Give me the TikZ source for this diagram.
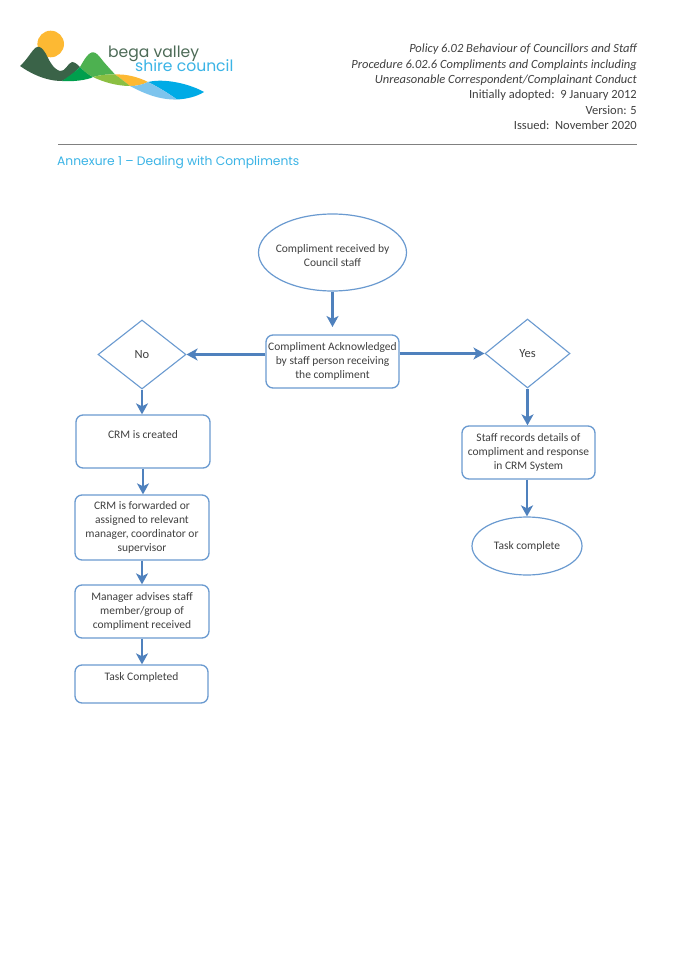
\documentclass[tikz,border=0pt]{standalone}
\usepackage{fontspec}
\setmainfont{Carlito}
\newfontfamily\logofont{Poppins}
\usetikzlibrary{shapes.geometric,arrows.meta}
\definecolor{flowline}{HTML}{4F81BD}
\definecolor{outlinec}{HTML}{6A9AD0}
\definecolor{inkc}{HTML}{404040}
\definecolor{annexc}{HTML}{3BB4E6}
\definecolor{sunc}{HTML}{FDB933}
\definecolor{darkgreenc}{HTML}{3A6348}
\definecolor{midgreenc}{HTML}{009F4D}
\definecolor{greenc}{HTML}{4DB150}
\definecolor{limec}{HTML}{8BBF42}
\definecolor{bluec}{HTML}{00ABE6}
\definecolor{paleblue}{HTML}{7DC4ED}
\definecolor{logotext}{HTML}{4D6B57}
\tikzset{
  x=1pt,y=1pt,
  flowtext/.style={text=inkc,font=\fontsize{11.5}{14}\selectfont,align=center,inner sep=0pt},
  boxnode/.style={flowtext,draw=outlinec,line width=1.3pt,rounded corners=7pt,fill=white},
  ovalnode/.style={flowtext,draw=outlinec,line width=1.2pt,ellipse,fill=white,inner xsep=-12pt},
  decnode/.style={flowtext,font=\fontsize{12.5}{14}\selectfont,draw=outlinec,line width=1.1pt,diamond,fill=white},
  conn/.style={draw=flowline,line width=2.5pt,-{Stealth[length=11pt,width=12pt,inset=3pt]}},
  headtext/.style={text=inkc,font=\fontsize{12.5}{14}\selectfont,anchor=base east,inner sep=0pt},
  hrule/.style={draw=black!50,line width=1pt}
}
\begin{document}
\begin{tikzpicture}
\useasboundingbox (0,0) rectangle (675,-957);
\fill[white] (0,0) rectangle (675,-957);
% logo
\fill[sunc] (50.7,-44) circle (13.3);
\fill[sunc] (115,-74.5) .. controls (127,-74) and (138,-77) .. (148,-82) .. controls (142,-85) and (136,-86) .. (130,-86) .. controls (125,-82) and (120,-78) .. (115,-74.5) -- cycle;
\fill[darkgreenc] (20,-66) .. controls (27,-60) and (32,-50) .. (36,-47.5) .. controls (40,-45) and (43,-49) .. (46,-54) .. controls (49,-60) and (53,-69) .. (60,-71) .. controls (65,-72) and (68,-63) .. (72,-62) .. controls (75,-62) and (78,-65) .. (80,-67) .. controls (75,-72) and (70,-77) .. (62,-81) .. controls (45,-81) and (30,-73) .. (20,-66) -- cycle;
\fill[midgreenc] (62,-81) .. controls (68,-77) and (75,-72) .. (80,-67) .. controls (84,-71) and (89,-75) .. (93,-77) .. controls (88,-80) and (72,-82) .. (62,-81) -- cycle;
\fill[greenc] (80,-67) .. controls (84,-60) and (88,-53) .. (92,-52.3) .. controls (96,-51.5) and (99,-56) .. (103,-61) .. controls (108,-67) and (112,-71) .. (115,-74.5) .. controls (108,-74) and (100,-75) .. (93,-77) .. controls (88,-75) and (84,-71) .. (80,-67) -- cycle;
\fill[limec] (93,-77) .. controls (100,-75) and (108,-74) .. (115,-74.5) .. controls (120,-78) and (125,-82) .. (130,-86) .. controls (117,-86) and (103,-82) .. (93,-77) -- cycle;
\fill[bluec] (148,-82) .. controls (165,-78) and (190,-84) .. (204,-92) .. controls (196,-97) and (186,-99) .. (177,-99.5) .. controls (168,-93) and (158,-87) .. (148,-82) -- cycle;
\fill[paleblue] (130,-86) .. controls (136,-86) and (142,-85) .. (148,-82) .. controls (158,-87) and (168,-93) .. (177,-99.5) .. controls (160,-100) and (145,-94) .. (130,-86) -- cycle;
\node[anchor=base west,inner sep=0pt,text=logotext,font=\logofont\fontsize{15.6}{15}\selectfont] (logotop) at (108,-57.5) {bega valley};
\node[anchor=base west,inner sep=0pt,text=annexc,font=\logofont\fontsize{15.6}{15}\selectfont] (logobot) at (135,-71.5) {shire council};
% header
\node[headtext] (h1) at (637,-53) {\itshape Policy 6.02 Behaviour of Councillors and Staff};
\node[headtext] (h2) at (637,-68.5) {\itshape Procedure 6.02.6 Compliments and Complaints including};
\node[headtext] (h3) at (637,-84) {\itshape Unreasonable Correspondent/Complainant Conduct};
\node[headtext] (h4) at (637,-99) {Initially adopted:\ \ 9 January 2012};
\node[headtext] (h5) at (637,-114.5) {Version: 5};
\node[headtext] (h6) at (637,-130) {Issued:\ \ November 2020};
\coordinate (ruleL) at (58,-145);
\coordinate (ruleR) at (637,-145);
\draw[hrule] (ruleL) -- (ruleR);
\node[anchor=base west,inner sep=0pt,text=annexc,font=\logofont\fontsize{12.3}{14}\selectfont] (annex) at (57,-166) {Annexure 1 – Dealing with Compliments};
% flow nodes
\node[ovalnode,minimum width=148pt,minimum height=77pt] (start) at (332.5,-252.5) {\rule{0pt}{14pt}Compliment received by\\Council staff};
\node[boxnode,minimum width=133pt,minimum height=53pt] (ack) at (332.5,-361.5) {Compliment Acknowledged\\by staff person receiving\\the compliment};
\node[decnode,minimum width=88pt,minimum height=69pt,shape aspect=1.275] (no) at (142,-354.5) {No};
\node[decnode,minimum width=85pt,minimum height=69pt,shape aspect=1.23] (yes) at (527.5,-353.5) {Yes};
\node[boxnode,minimum width=134pt,minimum height=53pt] (crm) at (143,-441.5) {CRM is created\\\ };
\node[boxnode,minimum width=134pt,minimum height=65pt] (fwd) at (142,-527.5) {CRM is forwarded or\\assigned to relevant\\manager, coordinator or\\supervisor};
\node[boxnode,minimum width=134pt,minimum height=53pt] (mgr) at (142,-611.5) {Manager advises staff\\member/group of\\compliment received};
\node[boxnode,minimum width=133pt,minimum height=38pt] (done) at (141.5,-684) {Task Completed\\\ };
\node[boxnode,minimum width=133pt,minimum height=53pt] (rec) at (528.5,-452.5) {Staff records details of\\compliment and response\\in CRM System};
\node[ovalnode,minimum width=110pt,minimum height=58pt] (fin) at (527,-546) {Task complete};
\coordinate (ackgap) at (332.5,-327);
% connectors
\draw[conn] (start.south) -- (ackgap);
\draw[conn] (ack.west |- no.east) -- (no.east);
\draw[conn] (ack.east |- yes.west) -- (yes.west);
\draw[conn] (no.south) -- (crm.north -| no.south);
\draw[conn] (yes.south) -- (rec.north -| yes.south);
\draw[conn] (crm.south) -- (fwd.north -| crm.south);
\draw[conn] (fwd.south) -- (mgr.north);
\draw[conn] (mgr.south) -- (done.north -| mgr.south);
\draw[conn] (rec.south -| fin.north) -- (fin.north);
\end{tikzpicture}
\end{document}
